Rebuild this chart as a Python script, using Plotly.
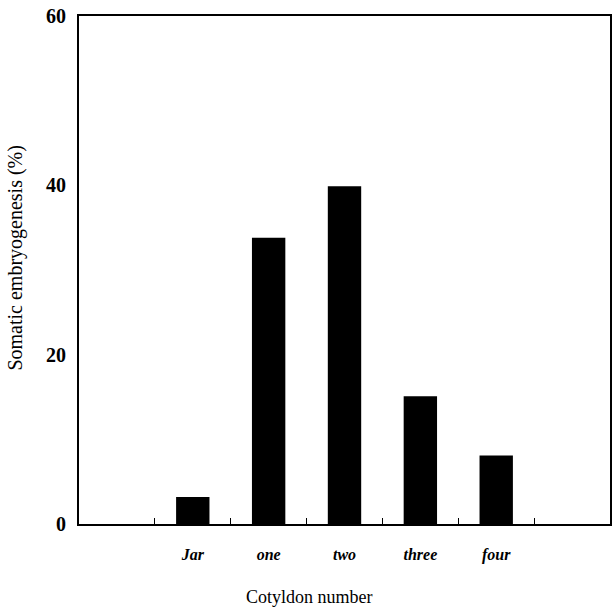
import plotly.graph_objects as go

categories = ["Jar", "one", "two", "three", "four"]
values = [3.2, 33.8, 39.9, 15.1, 8.1]
y_ticks = [0, 20, 40, 60]

labels = [f"<b><i>{c}</i></b>" for c in categories]
axis_categories = [" "] + labels + ["  "]

fig = go.Figure()
fig.add_trace(go.Bar(
    x=labels, y=values, width=0.44,
    marker=dict(color="black", line=dict(width=0)),
))

font_family = "Liberation Serif"
fig.update_layout(
    width=612, height=610,
    margin=dict(l=79, r=2, t=16, b=86, autoexpand=False),
    paper_bgcolor="white", plot_bgcolor="white",
    showlegend=False,
    font=dict(family=font_family, color="black"),
)
fig.update_xaxes(
    type="category",
    categoryorder="array", categoryarray=axis_categories,
    range=[-0.5, len(axis_categories) - 0.5],
    tickson="boundaries",
    tickfont=dict(size=16, family=font_family),
    ticks="inside", ticklen=6, tickwidth=1, tickcolor="black",
    ticklabelstandoff=15,
    showline=True, linecolor="black", linewidth=2, mirror=True,
    showgrid=False, zeroline=False,
    automargin=False,
)
fig.update_yaxes(
    range=[0, 60],
    tickmode="array", tickvals=y_ticks,
    ticktext=[f"<b>{v}</b>" for v in y_ticks],
    tickfont=dict(size=20, family=font_family),
    ticks="", ticklabelstandoff=7,
    showline=True, linecolor="black", linewidth=2, mirror=True,
    showgrid=False, zeroline=False,
    automargin=False,
)
fig.add_annotation(
    text="Cotyldon number", xref="paper", yref="paper",
    x=0.435, y=-0.143, xanchor="center", yanchor="middle", showarrow=False,
    font=dict(size=18, family=font_family),
)
fig.add_annotation(
    text="Somatic embryogenesis (%)", xref="paper", yref="paper",
    x=-0.12, y=0.525, xanchor="center", yanchor="middle", showarrow=False,
    textangle=-90, font=dict(size=20, family=font_family),
)

fig.write_html("out.html", config={"displayModeBar": False},
               post_script="document.body.style.margin='0';")
